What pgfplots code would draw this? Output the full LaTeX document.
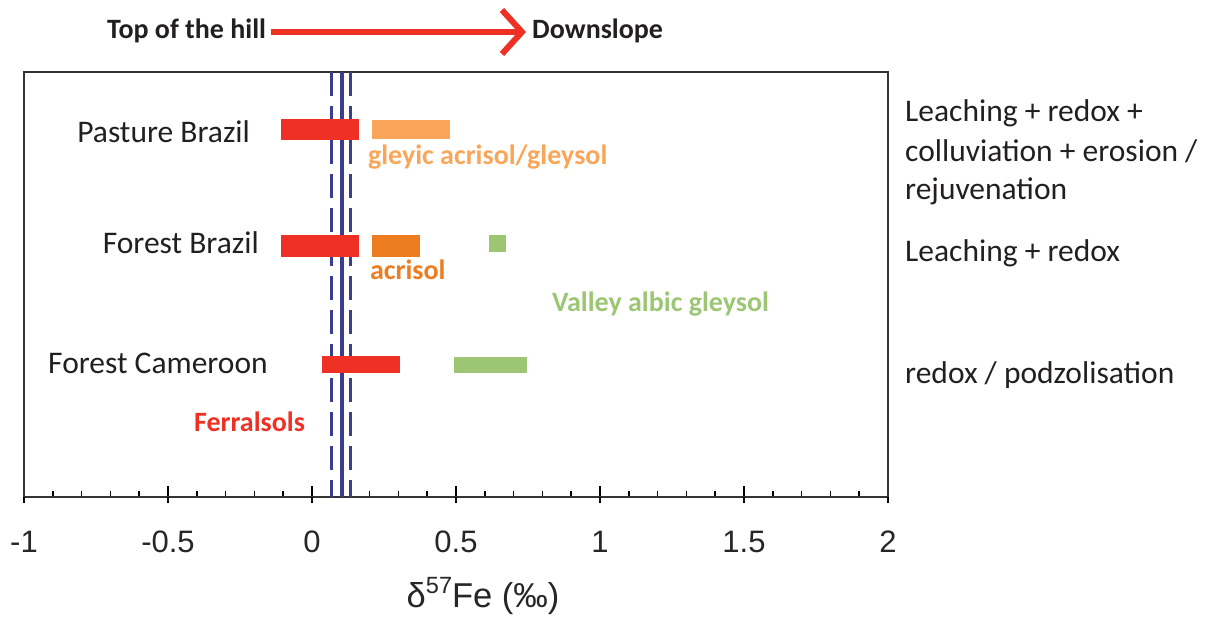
\documentclass[border=0pt]{standalone}
\usepackage{fontspec}
\setmainfont{Carlito}
\newfontfamily\ticksfont{Liberation Sans}
\usepackage{pgfplots}
\pgfplotsset{compat=1.18}
\usetikzlibrary{arrows.meta}
\definecolor{cred}{HTML}{EE3124}
\definecolor{corlight}{HTML}{F9A65A}
\definecolor{cordark}{HTML}{EE7D22}
\definecolor{cgreen}{HTML}{9CC674}
\definecolor{cnavy}{HTML}{3B3D8F}
\definecolor{ctext}{HTML}{231F20}
\begin{document}
\begin{tikzpicture}
\begin{axis}[
  at={(0pt,0pt)}, anchor=south west,
  width=864pt, height=425pt, scale only axis,
  xmin=-1, xmax=2, ymin=0, ymax=425,
  clip=false,
  axis line style={line width=2.2pt, color=black!80},
  xtick={-1,-0.5,0,0.5,1,1.5,2},
  minor x tick num=4,
  ytick=\empty,
  xtick pos=left,
  tick align=inside,
  major tick length=11pt, minor tick length=6pt,
  tick style={line width=1.6pt, black},
  extra x ticks={-1,-0.5,0,0.5,1,1.5,2},
  extra x tick labels={},
  extra x tick style={tick align=outside, major tick length=6pt},
  xticklabel style={font=\ticksfont\fontsize{31}{31}\selectfont, inner sep=0pt, yshift=-34pt, text=black!85},
  /pgf/number format/assume math mode=true,
  xlabel={\ticksfont\fontsize{34.5}{34.5}\selectfont δ\raisebox{0.4em}{\fontsize{23.5}{23.5}\selectfont 57}Fe (‰)},
  xlabel style={at={(axis cs:0.594,-80)}, anchor=north, inner sep=0pt, text=black!85},
]
% reference lines
\addplot[cnavy, line width=3pt, dash pattern=on 24pt off 10pt] coordinates {(0.068,425) (0.068,0)};
\addplot[cnavy, line width=3pt, dash pattern=on 24pt off 10pt] coordinates {(0.135,425) (0.135,0)};
\addplot[cnavy, line width=3.5pt] coordinates {(0.105,425) (0.105,0)};
% Pasture Brazil
\addplot[fill=cred, draw=none] coordinates {(-0.108,357) (0.164,357) (0.164,378) (-0.108,378)} --cycle;
\addplot[fill=corlight, draw=none] coordinates {(0.210,358) (0.479,358) (0.479,377) (0.210,377)} --cycle;
% Forest Brazil
\addplot[fill=cred, draw=none] coordinates {(-0.108,240) (0.164,240) (0.164,262) (-0.108,262)} --cycle;
\addplot[fill=cordark, draw=none] coordinates {(0.210,240) (0.375,240) (0.375,262) (0.210,262)} --cycle;
\addplot[fill=cgreen, draw=none] coordinates {(0.616,245) (0.674,245) (0.674,262) (0.616,262)} --cycle;
% Forest Cameroon
\addplot[fill=cred, draw=none] coordinates {(0.036,124) (0.306,124) (0.306,141) (0.036,141)} --cycle;
\addplot[fill=cgreen, draw=none] coordinates {(0.493,124) (0.745,124) (0.745,140) (0.493,140)} --cycle;

% labels
\begin{scope}[every node/.style={inner sep=0pt, text=ctext, font=\fontsize{31.5}{38}\selectfont}]
\node[anchor=base east] at (axis cs:-0.215,354) {Pasture Brazil};
\node[anchor=base east] at (axis cs:-0.184,243) {Forest Brazil};
\node[anchor=base east] at (axis cs:-0.153,123) {Forest Cameroon};
\node[anchor=base west] at (axis cs:2.059,375) {Leaching + redox +};
\node[anchor=base west] at (axis cs:2.059,335) {colluviation + erosion /};
\node[anchor=base west] at (axis cs:2.059,297) {rejuvenation};
\node[anchor=base west] at (axis cs:2.059,235) {Leaching + redox};
\node[anchor=base west] at (axis cs:2.059,113) {redox / podzolisation};
\end{scope}
\begin{scope}[every node/.style={inner sep=0pt, font=\bfseries\fontsize{28}{34}\selectfont}]
\node[anchor=base west, text=corlight] at (axis cs:0.194,332) {gleyic acrisol/gleysol};
\node[anchor=base west, text=cordark] at (axis cs:0.201,217) {acrisol};
\node[anchor=base west, text=cgreen] at (axis cs:0.833,185) {Valley albic gleysol};
\node[anchor=base west, text=cred] at (axis cs:-0.41,65) {Ferralsols};
\node[anchor=base east, text=ctext] at (axis cs:-0.159,458) {Top of the hill};
\node[anchor=base west, text=ctext] at (axis cs:0.764,458) {Downslope};
\end{scope}
\draw[cred, line width=6pt, -{Straight Barb[length=20pt, width=44pt, line width=6pt]}] (axis cs:-0.142,465) -- (axis cs:0.743,465);
\end{axis}
\pgfresetboundingbox
\useasboundingbox (-24pt,-120pt) rectangle (1182pt,497pt);
\end{tikzpicture}
\end{document}
